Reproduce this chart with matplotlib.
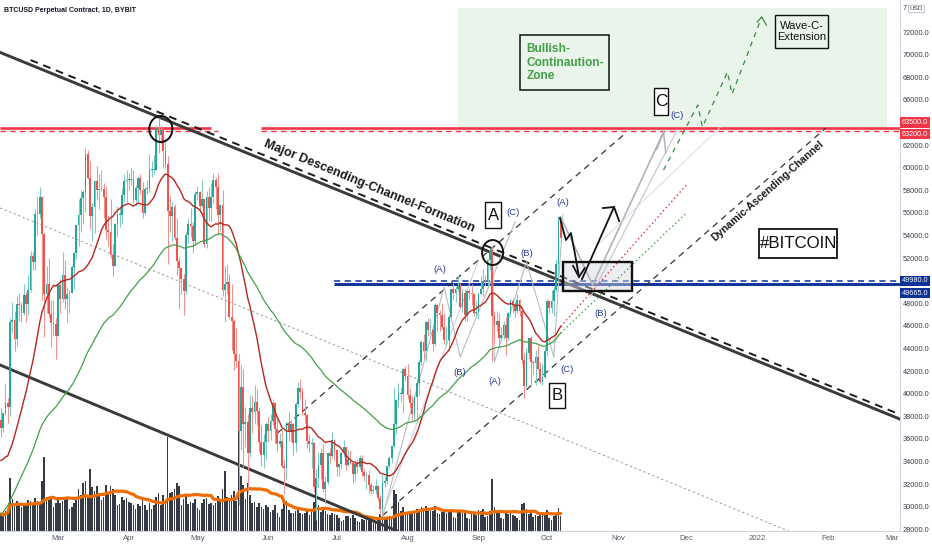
import numpy as np
import pandas as pd
import matplotlib
matplotlib.use("Agg")
import matplotlib.pyplot as plt
import matplotlib.dates as mdates
from matplotlib.patches import Rectangle, Ellipse
from matplotlib.transforms import blended_transform_factory

FONT = ['Liberation Sans Narrow', 'Liberation Sans', 'DejaVu Sans']
plt.rcParams['font.family'] = FONT

# ---------------- data (USD) ----------------
first_day = '2021-02-04'
last_day = '2021-10-07'

# closes before the first visible candle (used only to warm up the moving averages)
warm_close_nov = [13740, 13550, 14020, 14150, 15590, 15580, 14830, 15480, 15330, 15300,
                  15700, 16280, 16320, 16070, 15960, 16720, 17650, 17800, 17820, 18680,
                  18700, 18420, 18370, 19160, 18720, 17150, 17140, 17720, 18180, 19700]
warm_close_dec = [18800, 19200, 19450, 18700, 19150, 19370, 19190, 18320, 18550, 18260,
                  18060, 18810, 19170, 19280, 19440, 21380, 22800, 23130, 23870, 23480,
                  22750, 23820, 23240, 23730, 24710, 26490, 26280, 27080, 27360, 28880, 28950]
warm_close_jan = [29370, 32130, 32780, 31970, 33990, 36820, 39370, 40670, 40240, 38240,
                  35540, 34010, 37390, 39150, 36830, 36070, 35550, 36640, 35900, 35470,
                  30830, 32990, 32070, 32300, 32250, 32520, 30430, 33400, 34270, 34290, 33110]
warm_close_feb = [33540, 35510, 37670]

close_feb = [36930, 38290, 39190, 38800, 46370, 46480, 44840, 47970, 47860, 47120, 48690, 47920,
             49210, 52150, 51680, 55900, 55920, 57400, 54090, 48830, 49700, 47070, 46280, 46120, 45140]
high_feb = [38700, 38300, 40900, 39600, 46700, 48100, 47300, 48600, 48900, 48100, 49700, 49000,
            50500, 52600, 52500, 56300, 57500, 58300, 57500, 54200, 51300, 52000, 48300, 48300, 46700]
low_feb = [36200, 36600, 38100, 37400, 38000, 45400, 43800, 44200, 46400, 46300, 47000, 46300,
           47000, 49000, 50900, 50900, 54000, 55500, 48300, 45000, 47100, 46700, 44100, 45100, 43100]

close_mar = [49600, 48400, 50500, 48400, 48800, 48900, 51200, 52400, 54900, 55800, 57300, 57800,
             61200, 59100, 55700, 56500, 58800, 58000, 58100, 58100, 57400, 54500, 54300, 52300,
             51300, 55000, 55800, 55800, 57600, 58800, 58900]
high_mar = [49800, 50100, 52500, 51800, 49400, 49200, 51400, 52500, 54900, 57200, 58000, 58000,
            61700, 61600, 60600, 56900, 58900, 60100, 59400, 59800, 58600, 58400, 55800, 57200,
            53200, 55100, 56600, 56500, 58300, 59400, 59800]
low_mar = [45100, 47100, 48100, 47500, 46300, 47100, 48900, 49300, 51900, 53100, 54300, 55000,
           56100, 59000, 54600, 53500, 54200, 57100, 56300, 57900, 55500, 53700, 53100, 52000,
           50400, 51300, 53900, 54700, 55000, 57000, 57000]

close_apr = [58900, 59000, 57100, 58200, 59100, 58000, 56000, 58100, 58100, 59800, 59800, 59800,
             63500, 62900, 63300, 61500, 60300, 56200, 55700, 56500, 53800, 51700, 51100, 50100,
             49100, 54000, 55000, 54800, 53500, 57700]
high_apr = [59500, 60000, 59800, 58500, 59300, 59400, 58700, 58300, 58900, 61200, 60600, 61100,
            63800, 64400, 63800, 63500, 62500, 61000, 57500, 57000, 56800, 55500, 52100, 51200,
            50600, 54300, 55500, 56400, 55200, 57900]
low_apr = [58000, 58500, 56900, 56600, 56900, 57700, 55500, 55900, 57700, 57800, 59200, 59400,
           59800, 61300, 62100, 60000, 60000, 51500, 54300, 53500, 53600, 50500, 47500, 48800,
           47000, 48800, 53300, 53900, 52400, 53100]

close_may = [57800, 56600, 57200, 53200, 57400, 56400, 57400, 58900, 58300, 55800, 56700, 49200,
             49700, 49900, 46800, 46400, 43500, 42900, 36700, 40600, 37300, 37500, 34700, 38700,
             38400, 39300, 38500, 35700, 34600, 35700, 37300]
high_may = [58400, 57900, 58900, 57200, 57900, 58300, 58600, 59500, 59200, 59500, 56800, 58000,
            51300, 51500, 50600, 49700, 46600, 45800, 43500, 42500, 42200, 38800, 38200, 39900,
            39800, 40800, 40400, 38800, 37300, 36400, 37500]
low_may = [57100, 56100, 56500, 53000, 52900, 55300, 55300, 56900, 56300, 54000, 54400, 48600,
           46300, 48800, 46600, 43900, 42100, 42300, 30100, 35000, 33500, 35300, 31200, 34400,
           36500, 37300, 37200, 34800, 33600, 33400, 34200]

close_jun = [36700, 37600, 39200, 36900, 35500, 35800, 33600, 33400, 37400, 36700, 37300, 35600,
             39100, 40500, 40100, 38300, 38100, 35800, 35500, 35600, 31700, 32500, 33700, 34700,
             31600, 32200, 34700, 34500, 35900, 35000]
high_jun = [37900, 38200, 39500, 39300, 37900, 36500, 36800, 34100, 37500, 38400, 37700, 37400,
            39300, 41000, 41300, 40500, 39500, 38200, 36400, 36100, 35700, 33300, 34800, 35200,
            35500, 32700, 34700, 35200, 36600, 36000]
low_jun = [35700, 35900, 37200, 35600, 34900, 35300, 33400, 31100, 32400, 35800, 35700, 34600,
           34800, 38800, 39600, 38100, 37400, 35200, 34800, 33400, 31300, 28800, 31700, 32400,
           31300, 30200, 32000, 33900, 34300, 34100]

close_jul = [33500, 33800, 34700, 35300, 33700, 34200, 33900, 32900, 33800, 33500, 34300, 33100,
             32700, 32800, 31900, 31400, 31500, 31800, 30800, 29800, 32100, 32300, 33600, 34300,
             35400, 37300, 39400, 40000, 40000, 42200, 41600]
high_jul = [35000, 33900, 34900, 35900, 35300, 35000, 35000, 33900, 34100, 34200, 34600, 34600,
            33300, 33100, 33200, 32200, 31900, 32400, 31900, 31000, 32800, 32600, 33600, 34500,
            35400, 40500, 39500, 40900, 40600, 42300, 42400]
low_jul = [32700, 32700, 33300, 34400, 33200, 33600, 33800, 32100, 32300, 33000, 33300, 32700,
           32300, 31600, 31200, 31100, 31200, 31100, 30500, 29300, 29500, 31700, 32000, 33400,
           33900, 35200, 36400, 38800, 39300, 38300, 41100]

close_aug = [39900, 39200, 38200, 39700, 40900, 42800, 44600, 43800, 46300, 45600, 45600, 44400,
             47800, 47100, 47000, 45900, 44700, 44700, 46800, 49300, 48900, 49300, 49500, 47700,
             48900, 47000, 49100, 48900, 48800, 47100, 47200]
high_aug = [42600, 40400, 39800, 39900, 41400, 43000, 44700, 45300, 46400, 46700, 46700, 46200,
            48000, 47900, 47400, 48000, 47100, 46000, 47000, 49300, 49800, 49500, 50500, 49800,
            49300, 49300, 49200, 49300, 49700, 48900, 48200]
low_aug = [39500, 38700, 37700, 37600, 37400, 39900, 42500, 43100, 42900, 45100, 45300, 43800,
           44200, 45500, 45500, 45700, 44400, 44200, 43900, 46700, 48300, 48100, 49100, 47600,
           47200, 46400, 46400, 48400, 47800, 46900, 46700]

close_sep = [48800, 49300, 50000, 49900, 51800, 52700, 46900, 46100, 46400, 44900, 45200, 46100,
             44900, 47100, 48200, 47800, 47300, 48300, 47300, 43000, 40700, 43600, 44900, 42800,
             42700, 43200, 42200, 41000, 41500, 43800]
high_sep = [49000, 50400, 51000, 50500, 51900, 52800, 52900, 47300, 47300, 47100, 45900, 46400,
            46800, 47200, 48400, 48500, 48100, 48800, 48400, 47300, 43600, 44000, 44900, 45100,
            42900, 43900, 44300, 42800, 42600, 44100]
low_sep = [46600, 48700, 48600, 49500, 49500, 50900, 42900, 44500, 45500, 44200, 44800, 44800,
           43400, 44700, 46800, 47100, 46800, 47100, 46900, 42600, 39600, 40600, 43100, 40800,
           41700, 40800, 42100, 40900, 40800, 41400]

close_oct = [48200, 47600, 48200, 49200, 51500, 55300, 53800]
high_oct = [48400, 48300, 49200, 49500, 51900, 55700, 55300]
low_oct = [43300, 47100, 47100, 46900, 49000, 50400, 53400]

# volume (billion USD)
vol_feb = [1.7, 1.5, 2.0, 2.1, 5.3, 3.2, 2.6, 3.0, 2.8, 2.4, 2.5, 2.8, 3.1, 3.0, 2.7, 3.3, 3.0,
           2.9, 5.0, 7.4, 3.4, 3.1, 3.4, 2.4, 2.8]
vol_mar = [3.2, 2.8, 3.0, 3.1, 3.3, 2.2, 2.4, 2.8, 3.1, 4.2, 3.6, 4.8, 5.0, 3.6, 6.2, 4.4, 4.0,
           4.5, 3.8, 3.1, 3.4, 4.6, 3.7, 4.5, 4.2, 3.6, 2.6, 2.7, 3.4, 3.1, 3.3]
vol_apr = [2.9, 2.8, 2.6, 2.2, 2.7, 2.5, 3.3, 2.6, 2.1, 2.8, 2.2, 2.6, 3.4, 3.8, 2.6, 3.6, 2.9,
           9.4, 3.8, 3.9, 4.2, 4.8, 4.5, 2.6, 3.2, 3.6, 2.7, 2.9, 2.8, 3.2]
vol_may = [2.3, 2.1, 2.8, 3.2, 3.3, 2.7, 2.8, 2.6, 2.8, 3.5, 3.0, 4.2, 6.0, 3.4, 3.0, 3.6, 4.0,
           3.0, 15.0, 5.5, 4.6, 3.2, 4.8, 3.6, 2.8, 2.9, 2.4, 2.8, 2.4, 2.2, 2.6]
vol_jun = [2.4, 1.9, 2.1, 2.6, 1.8, 1.4, 2.2, 2.8, 3.0, 2.1, 1.8, 1.8, 2.0, 2.3, 1.8, 1.7, 1.8,
           2.0, 1.6, 2.2, 2.9, 4.6, 2.6, 1.9, 2.4, 2.0, 1.7, 1.6, 1.8, 1.7]
vol_jul = [1.6, 1.3, 1.0, 1.1, 1.5, 1.5, 1.3, 1.6, 1.3, 1.0, 0.9, 1.2, 1.1, 1.3, 1.2, 1.2, 0.8,
           0.8, 1.3, 1.7, 2.4, 1.3, 1.4, 1.5, 1.4, 4.1, 3.7, 2.9, 2.0, 2.4, 1.6]
vol_aug = [1.9, 1.7, 1.8, 2.0, 2.2, 2.1, 2.4, 2.0, 2.5, 2.3, 2.0, 2.0, 2.5, 1.8, 1.7, 1.9, 2.1,
           1.8, 1.9, 2.2, 1.4, 1.3, 2.0, 1.9, 1.8, 1.8, 1.3, 1.2, 1.8, 1.9, 1.6]
vol_sep = [2.1, 2.0, 2.2, 1.4, 1.5, 2.0, 5.2, 2.4, 1.8, 1.9, 1.3, 1.2, 1.9, 1.7, 1.8, 1.6, 1.5,
           1.3, 1.1, 2.7, 2.8, 2.2, 1.7, 2.0, 1.4, 1.6, 1.5, 1.8, 1.6, 1.7]
vol_oct = [2.1, 1.3, 1.1, 1.5, 1.7, 2.3, 1.5]

price_ticks = [28000, 30000, 32000, 34000, 36000, 38000, 40000, 42000, 44000, 46000, 48000,
               52000, 54000, 56000, 58000, 60000, 62000, 66000, 68000, 70000, 72000]
month_ticks = ['2021-03-01', '2021-04-01', '2021-05-01', '2021-06-01', '2021-07-01', '2021-08-01',
               '2021-09-01', '2021-10-01', '2021-11-01', '2021-12-01', '2022-01-01', '2022-02-01',
               '2022-03-01']
month_labels = ['Mar', 'Apr', 'May', 'Jun', 'Jul', 'Aug', 'Sep', 'Oct', 'Nov', 'Dec', '2022',
                'Feb', 'Mar']

resistance_solid, resistance_dashed = 63500, 63200
support_solid, support_dashed = 49665, 49980
wave_labels = [('(A)', '2021-08-15', 51025), ('(B)', '2021-08-24', 41910), ('(C)', '2021-09-16', 56070),
               ('(A)', '2021-09-08', 41115), ('(B)', '2021-09-22', 52440), ('(C)', '2021-10-10', 42175),
               ('(A)', '2021-10-08', 56870), ('(B)', '2021-10-24 12:00', 47130), ('(C)', '2021-11-27', 64650)]

# ---------------- assemble ----------------
closes = np.array(close_feb + close_mar + close_apr + close_may + close_jun + close_jul +
                  close_aug + close_sep + close_oct, dtype=float)
highs = np.array(high_feb + high_mar + high_apr + high_may + high_jun + high_jul +
                 high_aug + high_sep + high_oct, dtype=float)
lows = np.array(low_feb + low_mar + low_apr + low_may + low_jun + low_jul +
                low_aug + low_sep + low_oct, dtype=float)
vols = np.array(vol_feb + vol_mar + vol_apr + vol_may + vol_jun + vol_jul +
                vol_aug + vol_sep + vol_oct, dtype=float)
warm = warm_close_nov + warm_close_dec + warm_close_jan + warm_close_feb
dates = pd.date_range(first_day, last_day, freq='D')
n = len(dates)
closes, highs, lows, vols = closes[:n], highs[:n], lows[:n], vols[:n]
opens = np.concatenate([[warm[-1]], closes[:-1]])
highs = np.maximum(highs, np.maximum(opens, closes))
lows = np.minimum(lows, np.minimum(opens, closes))

all_close = pd.Series(warm + list(closes))
sma20 = all_close.rolling(20).mean().values[len(warm):]
ema70 = all_close.ewm(span=70, adjust=False).mean().values[len(warm):]
vol_ma = pd.Series(vols).rolling(20, min_periods=1).mean().values

x = mdates.date2num(dates.to_pydatetime())


def T(s):
    return mdates.date2num(pd.Timestamp(s).to_pydatetime())


def pts(lst):
    return [T(d) for d, _ in lst], [p for _, p in lst]


# ---------------- figure ----------------
fig = plt.figure(figsize=(9.32, 5.5), dpi=100)
rect = [0.0, 19 / 550, 900 / 932, 531 / 550]
ax_v = fig.add_axes(rect)
ax = fig.add_axes(rect)
ax.patch.set_alpha(0)

mar1 = T('2021-03-01')
x0, x1 = mar1 - 58 / 2.285, mar1 + 842 / 2.285
for a in (ax, ax_v):
    a.set_xlim(x0, x1)
ax.set_ylim(27841, 74832)
ax_v.set_ylim(0, 53.1)
ax_v.axis('off')

# volume
ax_v.bar(x, vols, width=0.7, color='#363a45', zorder=2, linewidth=0)
ax_v.plot(x, vol_ma, color='#ef6c00', lw=2.3, zorder=3, solid_capstyle='round')

# green zone
zone = Rectangle((T('2021-08-23'), 63500), T('2022-02-27') - T('2021-08-23'), 74120 - 63500,
                 facecolor='#e9f4ea', edgecolor='none', zorder=0.5)
ax.add_patch(zone)

# horizontal levels
for xa, xb in [(x0, T('2021-05-07')), (T('2021-05-29'), x1)]:
    ax.hlines(resistance_solid, xa, xb, color='#f23645', lw=1.9, zorder=2)
for xa, xb in [(x0, T('2021-05-10')), (T('2021-05-29'), x1)]:
    ax.hlines(resistance_dashed, xa, xb, color='#f23645', lw=1.0, linestyles=(0, (4, 3)), zorder=2)
ax.hlines(support_solid, T('2021-06-30'), x1, color='#0c3299', lw=2.1, zorder=2)
ax.hlines(support_dashed, T('2021-06-30'), x1, color='#0c3299', lw=1.1, linestyles=(0, (4, 3)), zorder=2)

# channels
ax.axline((T('2021-04-14'), 64480), (T('2021-09-07'), 52450), color='#3a3a3a', lw=2.1, zorder=3)
ax.axline((T('2021-02-04'), 42500), (T('2021-05-28'), 32950), color='#3a3a3a', lw=2.1, zorder=3)
ax.axline((T('2021-02-04'), 56400), (T('2021-06-14'), 45630), color='#9a9a9a', lw=0.7,
          linestyle=(0, (2.5, 2.5)), zorder=2)
xd, yd = pts([('2021-02-17', 69520), ('2022-03-04', 38190)])
ax.plot(xd, yd, color='#1a1a1a', lw=1.4, linestyle=(0, (4, 3)), zorder=3)
for seg in ([('2021-06-05', 36500), ('2021-11-05', 63150)],
            [('2021-07-21', 29200), ('2022-01-31', 63500)]):
    xs, ys = pts(seg)
    ax.plot(xs, ys, color='#333333', lw=0.9, linestyle=(0, (5, 4)), zorder=3)

# grey wave paths
grey_paths = [
    ([('2021-07-21', 29100), ('2021-08-17', 49430), ('2021-08-24', 43240), ('2021-09-17', 55180)], 0.8, '#b8bbc4'),
    ([('2021-07-21', 29300), ('2021-09-01', 51800)], 0.7, '#c8cbd2'),
    ([('2021-09-07', 52970), ('2021-09-08', 42800), ('2021-09-22', 51650), ('2021-10-04', 43240),
      ('2021-10-08', 55800)], 0.8, '#b8bbc4'),
    ([('2021-10-07', 55630), ('2021-10-21', 49610), ('2021-11-21', 63150)], 1.2, '#b0b3bb'),
    ([('2021-10-20', 48550), ('2021-11-27', 63330)], 0.8, '#c0c3ca'),
    ([('2021-10-24', 53330), ('2021-12-16', 63600)], 0.6, '#d5d7dd'),
]
for seg, lw, col in grey_paths:
    xs, ys = pts(seg)
    ax.plot(xs, ys, color=col, lw=lw, zorder=3.2)
xs, ys = pts([('2021-11-18', 61600), ('2021-11-21', 63150), ('2021-11-22', 61300)])
ax.plot(xs, ys, color='#b0b3bb', lw=1.1, zorder=3.2)

# candles
up = closes >= opens
col = np.where(up, '#26a69a', '#ef5350')
wick = np.where(up, '#7fcac2', '#f3918f')
ax.vlines(x, lows, highs, colors=wick, lw=0.75, zorder=4)
body_lo = np.minimum(opens, closes)
body_h = np.maximum(np.abs(closes - opens), 60)
ax.bar(x, body_h, bottom=body_lo, width=0.78, color=col, zorder=4.1, linewidth=0)

# moving averages
ax.plot(x, sma20, color='#b5281c', lw=1.0, zorder=5)
ax.plot(x, ema70, color='#43a047', lw=0.9, zorder=5)
ax.plot([x[-1], T('2021-12-01')], [sma20[-1], 58460], color='#d32f2f', lw=1.0,
        linestyle=(0, (1, 2)), zorder=5)
ax.plot([x[-1], T('2021-12-01')], [ema70[-1], 55980], color='#43a047', lw=1.0,
        linestyle=(0, (1, 2)), zorder=5)

# green extension zig-zag
xs, ys = pts([('2021-11-21', 59790), ('2021-12-06', 65540), ('2021-12-08', 63590),
              ('2021-12-19', 68460), ('2021-12-21', 66510), ('2022-01-03', 73330)])
ax.plot(xs, ys, color='#388e3c', lw=0.9, linestyle=(0, (4, 4)), zorder=5)
xs, ys = pts([('2022-01-01', 72885), ('2022-01-03', 73330), ('2022-01-05', 72620)])
ax.plot(xs, ys, color='#388e3c', lw=0.9, zorder=5)

# hand drawn arrows
xs, ys = pts([('2021-10-06 16:00', 55540), ('2021-10-09 07:00', 53590), ('2021-10-11 12:00', 54210),
              ('2021-10-13 08:00', 52265), ('2021-10-15', 50320)])
ax.plot(xs, ys, color='#111111', lw=1.3, zorder=6, solid_joinstyle='round')
xs, ys = pts([('2021-10-12 10:00', 51300), ('2021-10-15', 50320), ('2021-10-17 12:00', 51100)])
ax.plot(xs, ys, color='#111111', lw=1.3, zorder=6)
xs, ys = pts([('2021-10-16 08:00', 50140), ('2021-10-30 08:00', 56510)])
ax.plot(xs, ys, color='#111111', lw=1.3, zorder=6)
xs, ys = pts([('2021-10-25 12:00', 56420), ('2021-10-30 08:00', 56510), ('2021-11-01 14:00', 55270)])
ax.plot(xs, ys, color='#111111', lw=1.3, zorder=6)

# boxes
def box(d0, p0, d1, p1, fc='none', ec='#111111', lw=1.2, z=6, alpha=1.0):
    r = Rectangle((T(d0), p0), T(d1) - T(d0), p1 - p0, facecolor=fc, edgecolor=ec,
                  lw=lw, zorder=z, alpha=alpha)
    ax.add_patch(r)

box('2021-10-08', 49080, '2021-11-07', 51645, fc='#d6d9e2', ec='none', lw=0, z=3.1, alpha=0.45)
box('2021-10-08', 49080, '2021-11-07', 51645, fc='none', lw=1.7, z=5.6)
box('2021-09-19', 66870, '2021-10-28', 71730, lw=1.1)
box('2022-01-09', 70580, '2022-02-01', 73500, lw=1.0)
box('2021-11-17', 64650, '2021-11-23', 67040, fc='white', lw=1.0)
box('2021-09-04', 54650, '2021-09-11', 56955, fc='white', lw=1.0)
box('2021-10-02', 38720, '2021-10-09', 40940, fc='white', lw=1.0)
box('2022-01-01 19:00', 52000, '2022-02-05', 54565, fc='white', lw=1.3)

ax.text(T('2021-09-22'), 69300, 'Bullish-\nContinaution-\nZone', color='#43a047', fontsize=8.6,
        fontweight='bold', ha='left', va='center', linespacing=1.2, zorder=7)
ax.text(T('2022-01-20 10:00'), 72040, 'Wave-C-\nExtension', color='#111111', fontsize=8,
        ha='center', va='center', linespacing=1.1, zorder=7)
ax.text(T('2021-11-20'), 65850, 'C', color='#111111', fontsize=12.5, ha='center', va='center', zorder=7)
ax.text(T('2021-09-07 12:00'), 55800, 'A', color='#111111', fontsize=12, ha='center', va='center', zorder=7)
ax.text(T('2021-10-05 12:00'), 39830, 'B', color='#111111', fontsize=12, ha='center', va='center', zorder=7)
ax.text(T('2022-01-19'), 53280, '#BITCOIN', color='#111111', fontsize=12.2, ha='center', va='center', zorder=7)

for lab, d, p in wave_labels:
    ax.text(T(d), p, lab, color='#2d3a9c', fontsize=6.8, ha='center', va='center', zorder=7)

ax.text(T('2021-07-15'), 58370, 'Major Descending-Channel-Formation', rotation=-22.2,
        rotation_mode='anchor', ha='center', va='center', fontsize=9.0, fontweight='bold',
        color='#1a1a1a', zorder=7)
ax.text(T('2022-01-05 16:00'), 57930, 'Dynamic-Ascending-Channel', rotation=41.5,
        rotation_mode='anchor', ha='center', va='center', fontsize=7.6, fontweight='bold',
        color='#1a1a1a', zorder=7)

# circles
ax.add_patch(Ellipse((T('2021-04-15'), 63415), 10.1, 2300, facecolor='none', edgecolor='#111111',
                     lw=1.4, zorder=6))
ax.add_patch(Ellipse((T('2021-09-07 05:00'), 52485), 9.2, 2212, facecolor='none',
                     edgecolor='#111111', lw=1.4, zorder=6))

# title
fig.text(4 / 932, 1 - 11 / 550, 'BTCUSD Perpetual Contract, 1D, BYBIT', fontsize=5.0,
         color='#131722', ha='left', va='center', fontweight='bold')

# axes styling
for s in ['top', 'left']:
    ax.spines[s].set_visible(False)
for s in ['bottom', 'right']:
    ax.spines[s].set_color('#d1d4dc')
    ax.spines[s].set_linewidth(0.8)
ax.yaxis.tick_right()
ax.set_yticks(price_ticks)
ax.set_yticklabels([f'{v:.1f}' for v in price_ticks])
ax.tick_params(axis='y', length=0, pad=2, labelsize=5.3, labelcolor='#3a3e4a')
ax.set_xticks([T(m) for m in month_ticks])
ax.set_xticklabels(month_labels)
ax.tick_params(axis='x', length=0, pad=3, labelsize=5.6, labelcolor='#555a66')

tr = blended_transform_factory(ax.transAxes, ax.transData)
for val, pos, fc in [(resistance_solid, 64000, '#f23645'), (resistance_dashed, 62960, '#f23645'),
                     (support_dashed, 49965, '#0c3299'), (support_solid, 48900, '#0c3299')]:
    ax.text(1.002, pos, f'{val:.1f}', transform=tr, fontsize=5.2, color='white', ha='left',
            va='center', bbox=dict(boxstyle='square,pad=0.25', fc=fc, ec='none'), zorder=8,
            clip_on=False)
ax.text(1.003, 74040, '7', transform=tr, fontsize=5.3, color='#3a3e4a', ha='left', va='center',
        clip_on=False)
ax.text(1.011, 74040, 'USD', transform=tr, fontsize=4.6, color='#3a3e4a', ha='left', va='center',
        bbox=dict(boxstyle='round,pad=0.2', fc='white', ec='#b2b5be', lw=0.6), zorder=8,
        clip_on=False)

fig.savefig('out.png', dpi=100)
